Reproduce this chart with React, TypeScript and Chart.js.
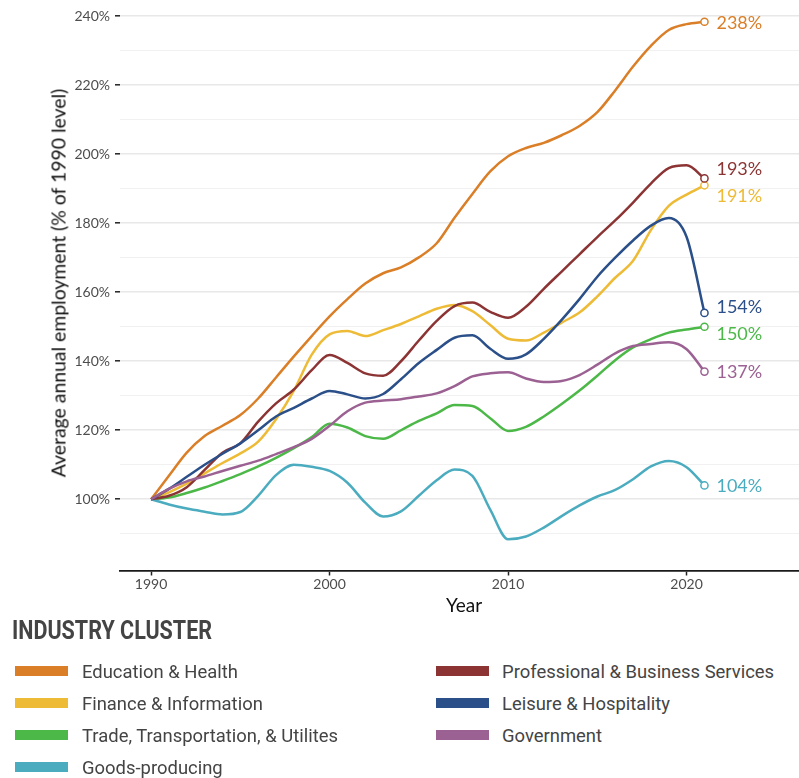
import React, { useEffect, useRef } from "react";
import { Chart, registerables } from "chart.js";

Chart.register(...registerables);

const years = [
  1990, 1991, 1992, 1993, 1994, 1995, 1996, 1997, 1998, 1999,
  2000, 2001, 2002, 2003, 2004, 2005, 2006, 2007, 2008, 2009,
  2010, 2011, 2012, 2013, 2014, 2015, 2016, 2017, 2018, 2019,
  2020, 2021,
];

const seriesNames = [
  "Education & Health",
  "Finance & Information",
  "Trade, Transportation, & Utilites",
  "Goods-producing",
  "Professional & Business Services",
  "Leisure & Hospitality",
  "Government",
];

const seriesColors = [
  "#DA7F27",
  "#EEBB37",
  "#4CB848",
  "#4BACBF",
  "#8C3434",
  "#2A4F89",
  "#9C6193",
];

const educationHealth = [
  100, 106.8, 113.5, 118.3, 121.3, 124.4, 129.2, 135.3, 141.4, 147.3,
  153, 158, 162.5, 165.5, 167.2, 170.1, 174.2, 181.6, 188.5, 195,
  199.4, 201.8, 203.3, 205.5, 208.2, 212.2, 218.5, 225.4, 231.4, 236,
  237.7, 238.4,
];
const financeInformation = [
  100, 102, 104.5, 107.5, 110.5, 113.3, 116.7, 123.2, 131.5, 141.9,
  147.8, 148.8, 147.3, 149, 150.8, 153, 155.2, 156.3, 154.5, 150.5,
  146.5, 146, 148.3, 151.2, 154.1, 158.8, 164.2, 169.1, 178, 185,
  188.3, 191,
];
const tradeTransportUtilities = [
  100, 100.5, 101.8, 103.4, 105.3, 107.3, 109.5, 112, 114.8, 118,
  121.9, 120.8, 118.3, 117.5, 120, 122.7, 124.9, 127.3, 127, 123.5,
  119.8, 121, 124, 127.6, 131.5, 135.8, 140.3, 144, 146.4, 148.3,
  149.2, 150,
];
const goodsProducing = [
  100, 98.5, 97.3, 96.4, 95.6, 96.3, 101, 107, 110, 109.4,
  108.2, 104.8, 99, 95, 96.5, 101, 105.5, 108.6, 106.8, 97,
  88.4, 89.2, 91.8, 95.1, 98.2, 100.8, 102.7, 105.8, 109.5, 111.1,
  109.3, 104,
];
const professionalBusiness = [
  100, 101, 103.5, 108.5, 113.5, 116.2, 122.5, 127.8, 131.8, 137.4,
  141.8, 139.5, 136.5, 135.8, 140, 146, 151.7, 156, 157, 154.3,
  152.6, 155.8, 161, 166, 171, 176, 180.8, 186, 191.5, 196,
  196.8, 193,
];
const leisureHospitality = [
  100, 103, 106.5, 110, 113.2, 116.2, 120, 124, 126.5, 129.2,
  131.4, 130.4, 129.2, 130.5, 134.8, 139.5, 143.3, 146.8, 147.5, 143.6,
  140.7, 142, 146.5, 152, 158, 164.5, 170, 175, 179.3, 181.5,
  176, 154,
];
const government = [
  100, 103, 105.2, 106.6, 108.2, 109.7, 111.2, 113.1, 115.1, 117.5,
  121.3, 125.5, 128, 128.6, 129, 129.8, 130.7, 132.8, 135.6, 136.5,
  136.8, 135, 134, 134.3, 136, 139, 142.3, 144.4, 145, 145.5,
  143.5, 137,
];

const seriesValues = [
  educationHealth,
  financeInformation,
  tradeTransportUtilities,
  goodsProducing,
  professionalBusiness,
  leisureHospitality,
  government,
];

const yTickValues = [90, 100, 110, 120, 130, 140, 150, 160, 170, 180, 190, 200, 210, 220, 230, 240];
const yMajorValues = [100, 120, 140, 160, 180, 200, 220, 240];
const xTickValues = [1990, 2000, 2010, 2020];

const xTitle = "Year";
const yTitle = "Average annual employment (% of 1990 level)";
const legendTitle = "INDUSTRY CLUSTER";

const isMajor = (v: number) => yMajorValues.includes(v);

const endLabelsPlugin = {
  id: "endLabels",
  afterDatasetsDraw(chart: any) {
    const ctx = chart.ctx;
    const items = chart.data.datasets
      .map((ds: any, i: number) => {
        const meta = chart.getDatasetMeta(i);
        const el = meta.data[meta.data.length - 1];
        const v = ds.data[ds.data.length - 1].y;
        return { x: el.x, y: el.y, ly: el.y, text: Math.round(v) + "%", color: ds.borderColor };
      })
      .sort((a: any, b: any) => a.y - b.y);
    const gap = 27;
    for (let k = 0; k < 200; k++) {
      let moved = false;
      for (let i = 1; i < items.length; i++) {
        const d = items[i].ly - items[i - 1].ly;
        if (d < gap - 0.01) {
          const s = (gap - d) / 2;
          items[i - 1].ly -= s;
          items[i].ly += s;
          moved = true;
        }
      }
      if (!moved) break;
    }
    ctx.save();
    ctx.font = "18px Lato";
    ctx.textAlign = "left";
    ctx.textBaseline = "middle";
    items.forEach((it: any) => {
      ctx.fillStyle = it.color;
      ctx.fillText(it.text, it.x + 12, it.ly + 1);
    });
    ctx.restore();
  },
};

export default function App() {
  const canvasRef = useRef<HTMLCanvasElement | null>(null);

  useEffect(() => {
    if (!canvasRef.current) return;
    const lastIdx = years.length - 1;
    const datasets = seriesNames.map((name, i) => ({
      label: name,
      data: years.map((yr, j) => ({ x: yr, y: seriesValues[i][j] })),
      borderColor: seriesColors[i],
      backgroundColor: seriesColors[i],
      borderWidth: 2.5,
      cubicInterpolationMode: "monotone" as const,
      pointRadius: (c: any) => (c.dataIndex === lastIdx ? 3.6 : 0),
      pointBackgroundColor: "#ffffff",
      pointBorderColor: seriesColors[i],
      pointBorderWidth: 1.5,
      order: seriesNames.length - i,
      fill: false,
    }));

    const chart = new Chart(canvasRef.current, {
      type: "line",
      data: { datasets },
      plugins: [endLabelsPlugin],
      options: {
        animation: false,
        responsive: false,
        events: [],
        layout: { padding: 0, autoPadding: false },
        plugins: {
          legend: { display: false },
          tooltip: { enabled: false },
          title: { display: false },
        },
        scales: {
          x: {
            type: "linear",
            min: 1988.26,
            max: 2026.8,
            afterBuildTicks: (scale: any) => {
              scale.ticks = xTickValues.map((v) => ({ value: v }));
            },
            afterFit: (scale: any) => {
              scale.height = 54.5;
              scale.paddingLeft = 0;
              scale.paddingRight = 0;
            },
            ticks: {
              autoSkip: false,
              maxRotation: 0,
              padding: 1,
              color: "#4d4d4d",
              font: { family: "Lato", size: 14 },
              callback: (v: any) => String(v),
            },
            grid: {
              display: true,
              drawOnChartArea: false,
              drawTicks: true,
              tickLength: 5,
              tickColor: "#222222",
              tickWidth: 1.5,
            },
            border: { display: true, color: "#1a1a1a", width: 1.8 },
            title: {
              display: true,
              text: xTitle,
              color: "#111111",
              font: { family: "Lato", size: 19 },
              padding: { top: 0, bottom: 8 },
            },
          },
          y: {
            type: "linear",
            min: 79.35,
            max: 244.7,
            afterBuildTicks: (scale: any) => {
              scale.ticks = yTickValues.map((v) => ({ value: v }));
            },
            afterFit: (scale: any) => {
              scale.width = 120;
              scale.paddingTop = 0;
              scale.paddingBottom = 0;
            },
            ticks: {
              autoSkip: false,
              padding: 5,
              color: "#4d4d4d",
              font: { family: "Lato", size: 14 },
              callback: (v: any) => (isMajor(Number(v)) ? v + "%" : ""),
            },
            grid: {
              drawOnChartArea: true,
              drawTicks: true,
              tickLength: 5,
              color: (c: any) => (c.tick && isMajor(c.tick.value) ? "#e8e8e8" : "#efefef"),
              lineWidth: (c: any) => (c.tick && isMajor(c.tick.value) ? 1.6 : 0.9),
              tickColor: (c: any) => (c.tick && isMajor(c.tick.value) ? "#222222" : "rgba(0,0,0,0)"),
              tickWidth: 1.5,
            },
            border: { display: false },
            title: { display: false },
          },
        },
      } as any,
    });
    return () => chart.destroy();
  }, []);

  const legendFont = 'Roboto, "Noto Sans", sans-serif';

  return (
    <div
      style={{
        position: "absolute",
        left: 0,
        top: 0,
        width: 799,
        height: 778,
        overflow: "hidden",
        background: "#ffffff",
      }}
    >
      <canvas ref={canvasRef} width={808} height={625} style={{ display: "block" }} />
      <div
        style={{
          position: "absolute",
          left: 58,
          top: 283,
          transform: "translate(-50%, -50%) rotate(-90deg)",
          fontFamily: "Lato, sans-serif",
          fontSize: 19.4,
          lineHeight: "23px",
          color: "#111111",
          whiteSpace: "nowrap",
        }}
      >
        {yTitle}
      </div>
      <div
        style={{
          position: "absolute",
          left: 12,
          top: 616,
          fontFamily: legendFont,
          fontWeight: "bold",
          fontSize: 25,
          lineHeight: "30px",
          color: "#444444",
          whiteSpace: "nowrap",
          transform: "scaleX(0.86)",
          transformOrigin: "left center",
        }}
      >
        {legendTitle}
      </div>
      {seriesNames.map((name, i) => {
        const col = i < 4 ? 0 : 1;
        const row = i < 4 ? i : i - 4;
        return (
          <div
            key={name}
            style={{
              position: "absolute",
              left: col === 0 ? 15 : 436,
              top: 671 + 32 * row - 16,
              height: 32,
              display: "flex",
              alignItems: "center",
              whiteSpace: "nowrap",
            }}
          >
            <div style={{ width: 53, height: 10, background: seriesColors[i], marginRight: col === 0 ? 14 : 13, flex: "none" }} />
            <span
              style={{
                display: "inline-block",
                fontFamily: legendFont,
                fontSize: 19,
                color: "#444444",
                transform: "scaleX(0.97)",
                transformOrigin: "left center",
              }}
            >
              {name}
            </span>
          </div>
        );
      })}
    </div>
  );
}
